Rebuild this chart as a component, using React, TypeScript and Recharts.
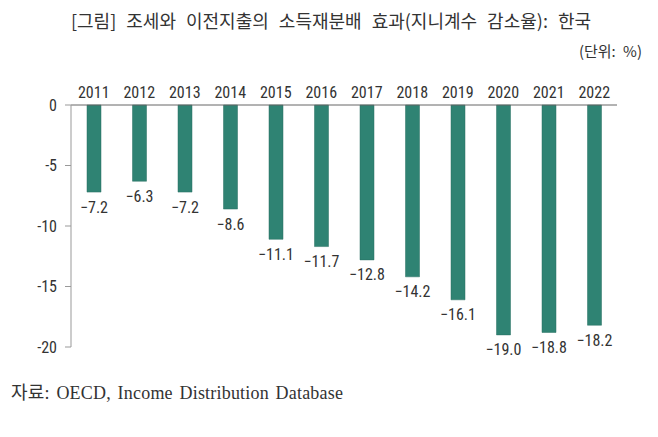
import React from "react"
import { BarChart, Bar, XAxis, YAxis, LabelList } from "recharts"

const years = ["2011", "2012", "2013", "2014", "2015", "2016", "2017", "2018", "2019", "2020", "2021", "2022"]
const giniReduction = [-7.2, -6.3, -7.2, -8.6, -11.1, -11.7, -12.8, -14.2, -16.1, -19.0, -18.8, -18.2]
const yTicks = [0, -5, -10, -15, -20]

const data = years.map((year, i) => ({ year, value: giniReduction[i] }))

const numFont = "'Liberation Sans Narrow', 'Roboto Condensed', Roboto, sans-serif"
const krFont = "'Noto Sans CJK KR', 'Noto Sans', sans-serif"
const textColor = "#333"

function BarValueLabel(props: any) {
  const { x, y, width, height, value } = props
  const bottom = Math.max(y, y + height)
  return (
    <text
      x={x + width / 2}
      y={bottom + 15}
      textAnchor="middle"
      dominantBaseline="central"
      fill={textColor}
      fontSize={16}
      fontFamily={numFont}
    >
      {`−${Math.abs(value).toFixed(1)}`}
    </text>
  )
}

export default function App() {
  return (
    <div style={{ position: "relative", width: 658, height: 437, margin: -8, background: "#fff" }}>
      <div
        style={{
          position: "absolute",
          top: 7,
          left: 0,
          width: 662,
          textAlign: "center",
          fontFamily: krFont,
          fontSize: 18,
          wordSpacing: 6,
          color: textColor,
        }}
      >
        [그림] 조세와 이전지출의 소득재분배 효과(지니계수 감소율): 한국
      </div>
      <div
        style={{
          position: "absolute",
          top: 40,
          right: 16,
          fontFamily: krFont,
          fontSize: 15,
          wordSpacing: 4,
          color: textColor,
        }}
      >
        (단위: %)
      </div>
      <BarChart
        width={658}
        height={437}
        data={data}
        margin={{ top: 75, right: 41, bottom: 90, left: 11 }}
        style={{ position: "absolute", top: 0, left: 0 }}
      >
        <XAxis
          dataKey="year"
          orientation="top"
          height={30}
          axisLine={{ stroke: "#666" }}
          tickLine={false}
          tickSize={4}
          tickMargin={3}
          interval={0}
          tick={{ fill: textColor, fontSize: 16, fontFamily: numFont }}
        />
        <YAxis
          type="number"
          domain={[-20, 0]}
          ticks={yTicks}
          width={60}
          axisLine={{ stroke: "#999" }}
          tickLine={{ stroke: "#999" }}
          tickSize={6}
          tickMargin={8}
          tick={{ fill: textColor, fontSize: 16, fontFamily: numFont }}
        />
        <Bar dataKey="value" fill="#2f8373" stroke="#286f62" strokeWidth={0.5} barSize={14} isAnimationActive={false}>
          <LabelList dataKey="value" content={BarValueLabel} />
        </Bar>
      </BarChart>
      <div
        style={{
          position: "absolute",
          top: 378,
          left: 11,
          fontFamily: "'Liberation Serif', 'Noto Sans CJK KR', serif",
          fontSize: 18,
          letterSpacing: 0.2,
          wordSpacing: 2,
          color: textColor,
        }}
      >
        자료: OECD, Income Distribution Database
      </div>
    </div>
  )
}
